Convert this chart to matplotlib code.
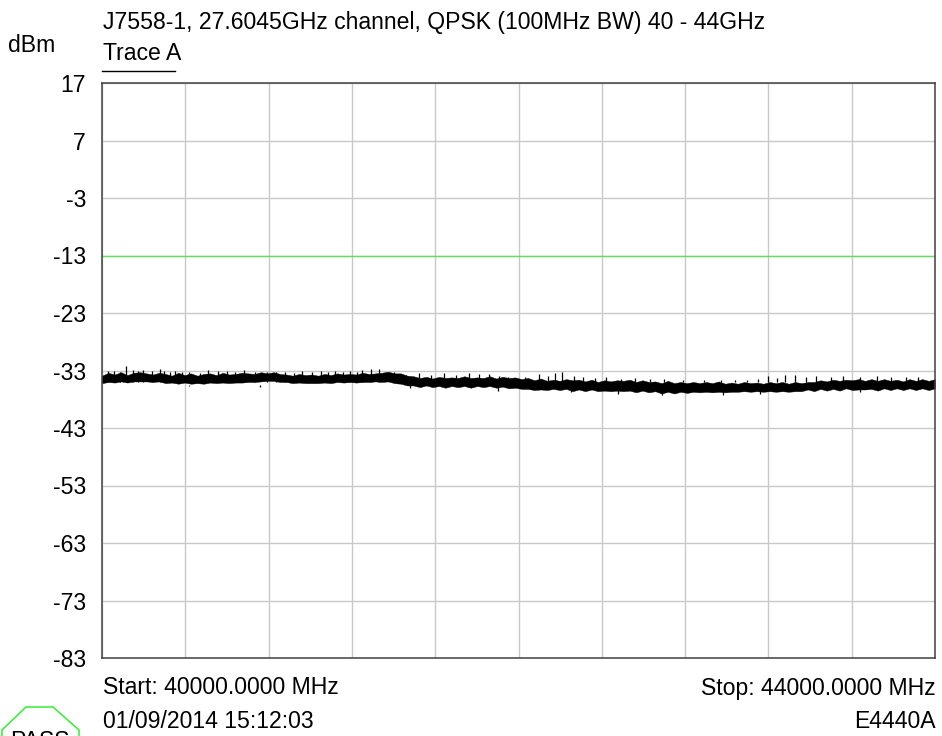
import matplotlib
matplotlib.use('Agg')
import matplotlib.pyplot as plt
import numpy as np

plt.rcParams['font.family'] = ['Liberation Sans', 'DejaVu Sans']
plt.rcParams['axes.unicode_minus'] = False

# envelope of the noise trace (dBm), evenly spaced over the span
trace_upper = [
    -33.9, -33.4, -33.7, -33.3, -33.8, -33.4, -33.3, -33.5, -33.7, -33.4, -33.6, -33.9,
    -33.4, -33.8, -33.5, -33.9, -33.6, -33.5, -33.8, -33.4, -33.7, -33.6, -33.4, -33.5,
    -33.6, -33.3, -33.5, -33.3, -33.6, -33.7, -33.9, -33.6, -33.8, -33.7, -33.9, -33.6,
    -33.8, -33.5, -33.7, -33.6, -33.7, -33.4, -33.6, -33.5, -33.4, -33.2, -33.5, -33.5,
    -33.9, -34.0, -34.3, -34.1, -34.4, -34.1, -34.3, -34.2, -34.3, -34.0, -34.3, -34.2,
    -34.3, -34.0, -34.4, -34.1, -34.3, -34.2, -34.5, -34.3, -34.7, -34.4, -34.8, -34.6,
    -34.8, -34.5, -34.7, -34.6, -34.9, -34.6, -35.0, -34.7, -34.9, -34.7, -34.8, -34.6,
    -35.0, -34.7, -35.0, -34.9, -35.2, -34.8, -35.2, -35.0, -35.2, -35.0, -35.2, -35.0,
    -35.2, -34.9, -35.3, -35.1, -35.3, -35.0, -35.2, -35.1, -35.3, -35.0, -35.2, -35.0,
    -35.3, -35.0, -35.2, -35.0, -35.0, -34.7, -34.9, -34.6, -34.8, -34.6, -34.7, -34.5,
    -34.8, -34.5, -34.8, -34.5, -34.8, -34.6, -34.9, -34.5, -34.8, -34.5, -34.8, -34.5,
]
trace_lower = [
    -35.2, -35.0, -35.1, -34.9, -35.1, -34.9, -34.9, -34.9, -35.0, -34.9, -35.2, -35.1,
    -35.3, -35.1, -35.3, -35.2, -35.3, -35.1, -35.2, -35.1, -35.2, -35.1, -35.1, -35.0,
    -35.0, -34.9, -34.8, -34.8, -35.0, -35.0, -35.2, -35.1, -35.2, -35.2, -35.2, -35.1,
    -35.2, -35.0, -35.1, -35.0, -35.1, -35.0, -35.0, -34.9, -35.0, -34.9, -35.2, -35.3,
    -35.6, -35.6, -35.9, -35.6, -35.9, -35.7, -36.0, -35.7, -35.9, -35.7, -36.0, -35.7,
    -35.9, -35.7, -36.0, -35.8, -36.1, -36.0, -36.2, -36.2, -36.4, -36.3, -36.4, -36.2,
    -36.4, -36.2, -36.6, -36.3, -36.6, -36.3, -36.6, -36.5, -36.6, -36.5, -36.6, -36.5,
    -36.8, -36.5, -36.8, -36.6, -37.0, -36.7, -37.0, -36.7, -36.9, -36.7, -36.8, -36.7,
    -36.8, -36.7, -36.8, -36.7, -36.7, -36.6, -36.7, -36.6, -36.7, -36.6, -36.7, -36.6,
    -36.7, -36.6, -36.6, -36.3, -36.6, -36.2, -36.5, -36.2, -36.5, -36.1, -36.4, -36.3,
    -36.3, -36.2, -36.5, -36.1, -36.4, -36.1, -36.4, -36.1, -36.4, -36.1, -36.4, -36.1,
]
# single tall peaks above the envelope
spike_freq = [
    40030, 40060, 40085, 40115, 40150, 40175, 40195, 40240, 40280, 40300, 40325, 40350,
    40385, 40420, 40470, 40510, 40555, 40600, 40640, 40680, 40735, 40790, 40835, 40880,
    40920, 40960, 41010, 41050, 41085, 41120, 41155, 41190, 41225, 41250, 41290, 41330,
    41400, 41460, 41520, 41580, 41640, 41700, 41760, 41810, 41860, 41905, 41950, 42030,
    42100, 42140, 42175, 42210, 42265, 42310, 42365, 42420, 42490, 42560, 42630, 42700,
    42790, 42890, 42970, 43040, 43095, 43150, 43200, 43240, 43280, 43330, 43380, 43430,
    43500, 43560, 43640, 43720, 43790, 43860, 43920,
]
spike_top = [
    -33.0, -33.1, -33.2, -32.2, -32.9, -33.1, -32.9, -33.0, -32.8, -33.0, -33.2, -33.1,
    -33.3, -33.2, -33.4, -32.9, -33.0, -33.0, -33.2, -32.9, -33.2, -33.2, -33.3, -33.3,
    -33.4, -33.1, -33.3, -33.0, -33.2, -33.1, -33.2, -33.0, -33.2, -32.9, -32.7, -32.7,
    -33.3, -33.7, -33.5, -33.7, -33.5, -33.7, -33.5, -33.6, -33.6, -33.9, -34.1, -34.2,
    -33.6, -34.0, -33.5, -33.2, -34.0, -34.2, -34.3, -34.1, -34.4, -34.3, -34.5, -34.4,
    -34.6, -34.6, -34.7, -34.6, -34.7, -34.4, -33.9, -34.3, -33.8, -33.7, -34.1, -34.0,
    -34.2, -34.0, -34.2, -33.9, -34.2, -34.1, -34.2,
]
# peaks below the envelope
dip_freq = [40250, 40420, 40760, 41250, 41480, 41900, 42250, 42480, 42690, 42980, 43160, 43640]
dip_bottom = [-35.6, -35.7, -35.8, -35.5, -36.0, -36.6, -36.8, -37.0, -37.3, -37.2, -37.1, -36.7]

limit_line = -13
y_ticks = [17, 7, -3, -13, -23, -33, -43, -53, -63, -73, -83]
x_start = 40000
x_stop = 44000
x_divisions = 10

W, H = 942, 736
fig = plt.figure(figsize=(W / 100, H / 100), dpi=100)
ax = fig.add_axes([102 / W, 1 - 658 / H, 833 / W, 575 / H])

freq = np.linspace(x_start, x_stop, len(trace_upper))
ax.set_xlim(x_start, x_stop)
ax.set_ylim(-83, 17)
ax.set_xticks(np.linspace(x_start, x_stop, x_divisions + 1))
ax.set_yticks(y_ticks)
ax.grid(True, color='#c8c8c8', linewidth=1.0)
ax.set_axisbelow(True)
ax.tick_params(length=0, labelbottom=False, labelsize=16.6, pad=11.5, labelcolor='black')
for s in ax.spines.values():
    s.set_color('#404040')
    s.set_linewidth(1.1)

ax.axhline(limit_line, color='#66dd66', linewidth=1.0)
ax.fill_between(freq, trace_lower, trace_upper, color='black', linewidth=0.3)
ax.vlines(spike_freq, -35, spike_top, color='black', linewidth=0.9)
ax.vlines(dip_freq, -35.5, dip_bottom, color='black', linewidth=0.9)

# text outside the plot, placed in pixels of the figure
ov = fig.add_axes([0, 0, 1, 1], facecolor='none')
ov.set_xlim(0, W)
ov.set_ylim(H, 0)
ov.axis('off')
fs = 16.6
ov.text(103, 22, 'J7558-1, 27.6045GHz channel, QPSK (100MHz BW) 40 - 44GHz', fontsize=fs, va='center')
ov.text(8, 46, 'dBm', fontsize=fs, va='center')
ov.text(103, 54, 'Trace A', fontsize=fs, va='center')
ov.plot([102, 175], [71, 71], color='black', linewidth=1.0)
ov.text(103, 688, 'Start: 40000.0000 MHz', fontsize=fs, va='center')
ov.text(936, 688, 'Stop: 44000.0000 MHz', fontsize=fs, va='center', ha='right')
ov.text(103, 722, '01/09/2014 15:12:03', fontsize=fs, va='center')
ov.text(936, 722, 'E4440A', fontsize=fs, va='center', ha='right')

# PASS badge runs off the bottom edge
ov.plot([2, 2, 26, 53, 79, 79], [745, 730, 707, 707, 730, 745], color='#33ee33', linewidth=1.1)
ov.text(40, 741, 'PASS', fontsize=fs, va='center', ha='center')

fig.savefig('out.png', dpi=100)
